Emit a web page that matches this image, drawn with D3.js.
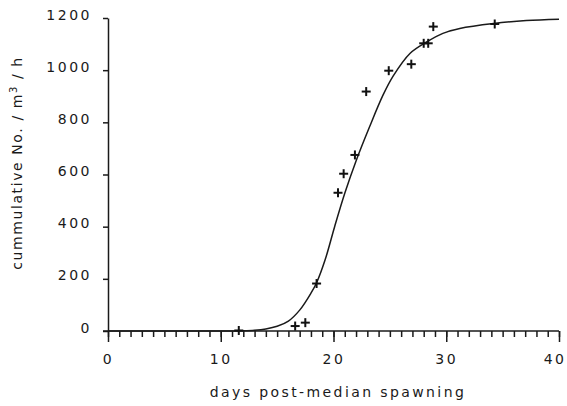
<!DOCTYPE html>
<html>
<head>
<meta charset="utf-8">
<script src="https://cdn.jsdelivr.net/npm/d3@7"></script>
<style>
  html, body { margin: 0; padding: 0; background: #fff; }
  svg { display: block; }
  text { font-family: "DejaVu Sans", sans-serif; fill: #1a1a1a; }
</style>
</head>
<body>
<svg id="chart" width="567" height="406"></svg>
<script>
// Observed data (crosses)
const obsDays   = [11.6, 16.6, 17.5, 18.5, 20.4, 20.9, 21.9, 22.9, 24.9, 26.9, 28.0, 28.4, 28.85, 34.3];
const obsValues = [2, 19, 32, 182, 530, 603, 675, 918, 998, 1023, 1103, 1103, 1167, 1177];

// Fitted curve
const fitDays   = [0, 10, 12, 13, 14, 15, 16, 17, 18, 18.5, 19.25, 20.1, 21.0, 22.0, 23.2, 24.4, 25.3, 26.8, 28.3, 29.7, 31.2, 34.2, 37.1, 40];
const fitValues = [0, 0, 1, 3, 8, 18, 38, 80, 145, 185, 272, 400, 528, 652, 783, 905, 978, 1065, 1109, 1141, 1160, 1179, 1190, 1195];

// Axis ticks
const xMajorTicks = [0, 10, 20, 30, 40];
const xMinorTicks = d3.range(0, 41, 1);
const yTicks = [0, 200, 400, 600, 800, 1000, 1200];

const xTitle = "days post-median spawning";

const svg = d3.select("#chart");
const x = d3.scaleLinear().domain([0, 40]).range([108, 559]);
const y = d3.scaleLinear().domain([0, 1200]).range([331, 18]);

// X axis: minor ticks
svg.append("g")
  .attr("transform", `translate(0,${y(0)})`)
  .call(d3.axisBottom(x).tickValues(xMinorTicks).tickSize(6).tickFormat(""))
  .call(g => g.select(".domain").remove())
  .call(g => g.selectAll("line").attr("stroke", "#1a1a1a").attr("stroke-width", 1.5));

// X axis: major ticks
const gx = svg.append("g")
  .attr("transform", `translate(0,${y(0)})`)
  .call(d3.axisBottom(x).tickValues(xMajorTicks).tickSize(11).tickSizeOuter(0).tickFormat(d3.format("d")));
gx.select(".domain").remove();
gx.selectAll("line").attr("stroke", "#1a1a1a").attr("stroke-width", 1.5);
gx.selectAll("text")
  .attr("y", 33).attr("dy", 0)
  .attr("font-size", 14).attr("letter-spacing", 2.5)
  .attr("font-family", "DejaVu Sans, sans-serif")
  .attr("fill", "#1a1a1a");
// last label sits against the right edge, as in the reference
gx.selectAll(".tick").filter(d => d === 40).select("text")
  .attr("text-anchor", "end").attr("x", 566 - x(40));

// Y axis
const gy = svg.append("g")
  .attr("transform", `translate(${x(0)},0)`)
  .call(d3.axisLeft(y).tickValues(yTicks).tickSize(5).tickSizeOuter(0).tickFormat(d3.format("d")));
gy.select(".domain").attr("stroke", "#1a1a1a").attr("stroke-width", 1.5);
gy.selectAll("line").attr("stroke", "#1a1a1a").attr("stroke-width", 1.5);
gy.selectAll("text")
  .attr("x", -16).attr("y", 1).attr("dy", 0)
  .attr("font-size", 14).attr("letter-spacing", 2.5)
  .attr("font-family", "DejaVu Sans, sans-serif")
  .attr("fill", "#1a1a1a");

// X axis baseline (from y tick to end)
svg.append("line")
  .attr("x1", x(0) - 5).attr("x2", x(40))
  .attr("y1", y(0)).attr("y2", y(0))
  .attr("stroke", "#1a1a1a").attr("stroke-width", 1.5);

// Fitted curve
const fitData = fitDays.map((d, i) => [d, fitValues[i]]);
svg.append("path")
  .datum(fitData)
  .attr("fill", "none")
  .attr("stroke", "#1a1a1a")
  .attr("stroke-width", 1.5)
  .attr("d", d3.line().x(d => x(d[0])).y(d => y(d[1])).curve(d3.curveCatmullRom.alpha(0.5)));

// Observation crosses
const obs = obsDays.map((d, i) => [d, obsValues[i]]);
const s = 4.5;
const crosses = svg.append("g").selectAll("g").data(obs).join("g")
  .attr("transform", d => `translate(${x(d[0])},${y(d[1])})`);
crosses.append("line").attr("x1", -s).attr("x2", s).attr("y1", 0).attr("y2", 0);
crosses.append("line").attr("x1", 0).attr("x2", 0).attr("y1", -s).attr("y2", s);
crosses.selectAll("line").attr("stroke", "#111").attr("stroke-width", 2);

// Axis titles
svg.append("text")
  .attr("x", 338).attr("y", 397)
  .attr("text-anchor", "middle")
  .attr("font-size", 14).attr("letter-spacing", 2.4)
  .text(xTitle);

const yt = svg.append("text")
  .attr("transform", "translate(22,163) rotate(-90)")
  .attr("text-anchor", "middle")
  .attr("font-size", 14).attr("letter-spacing", 1.6);
yt.append("tspan").text("cummulative No. / m");
yt.append("tspan").attr("font-size", 10).attr("dy", -5).text("3");
yt.append("tspan").attr("dy", 5).text(" / h");
</script>
</body>
</html>
